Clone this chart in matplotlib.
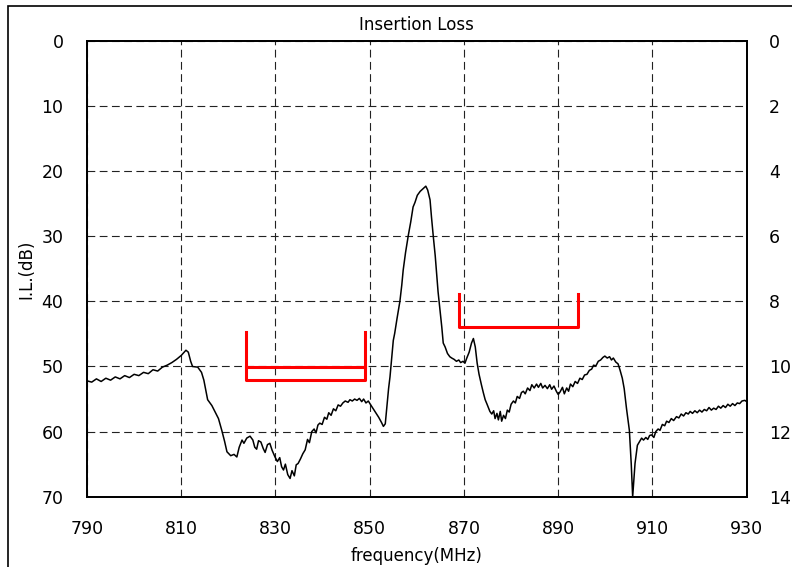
import matplotlib
matplotlib.use("Agg")
import matplotlib.pyplot as plt
from matplotlib.patches import Rectangle

freq = [790, 791, 792, 793, 794, 795, 796, 797, 798, 799, 800, 801, 802, 803, 804, 805, 806, 807, 808, 809,
        810, 810.5, 811, 811.5, 812, 812.4, 813.5, 814.3, 814.8, 815.3, 815.6, 816.5, 817.2, 817.9, 818.6,
        819.2, 819.7, 820.5, 821.2, 821.8, 822.3, 822.9, 823.3, 823.9, 824.6, 825.2, 825.6, 826.0, 826.4,
        826.9, 827.4, 827.8, 828.3, 828.8, 829.3, 829.9, 830.4, 830.9, 831.3, 831.7, 832.1, 832.6, 833.1,
        833.5, 834.0, 834.4, 834.8, 835.3, 835.8, 836.3, 836.8, 837.2, 837.7, 838.2, 838.6, 839.0, 839.4,
        839.9, 840.4, 840.9, 841.3, 841.8, 842.3, 842.8, 843.3, 843.8, 844.3, 844.8, 845.4, 845.8, 846.3,
        846.8, 847.3, 847.8, 848.3, 848.7, 849.2, 849.7, 850.3, 851.1, 851.9, 852.5, 852.9, 853.3, 853.6,
        854.0, 854.3, 854.7, 855.0, 855.3, 855.8, 856.4, 856.8, 857.1, 857.6, 858.2, 858.7, 859.2, 859.6,
        860.1, 860.7, 861.3, 861.9, 862.3, 862.8, 863.1, 863.5, 863.9, 864.2, 864.5, 864.9, 865.3, 865.6,
        866.0, 866.5, 867.0, 867.4, 867.9, 868.4, 868.9, 869.3, 869.8, 870.2, 870.6, 871.1, 871.6, 872.0,
        872.4, 872.8, 873.2, 873.7, 874.1, 874.5, 874.9, 875.5, 875.9, 876.3, 876.6, 877.0, 877.3, 877.7,
        878.0, 878.4, 878.8, 879.2, 879.6, 880.0, 880.5, 880.9, 881.3, 881.8, 882.2, 882.6, 883.0, 883.5,
        884.0, 884.4, 884.9, 885.4, 885.8, 886.3, 886.7, 887.2, 887.7, 888.2, 888.6, 889.1, 889.6, 890.0,
        890.4, 890.9, 891.3, 891.8, 892.2, 892.6, 893.1, 893.6, 894.1, 894.6, 895.1, 895.6, 896.1, 896.6,
        897.1, 897.5, 898.0, 898.5, 899.0, 899.5, 899.9, 900.4, 900.9, 901.3, 901.7, 902.2, 902.7, 903.1,
        903.6, 904.0, 904.5, 905.1, 905.5, 905.8, 906.3, 906.8, 907.2, 907.7, 908.1, 908.6, 909.0, 909.4,
        909.8, 910.3, 910.7, 911.2, 911.6, 912.1, 912.6, 913.0, 913.5, 914.0, 914.5, 915.1, 915.6, 916.1,
        916.6, 917.1, 917.6, 918.0, 918.5, 919.0, 919.5, 920.0, 920.5, 921.0, 921.5, 922.0, 922.5, 923.0,
        923.5, 924.0, 924.5, 925.0, 925.5, 926.0, 926.5, 927.0, 927.5, 928.0, 928.5, 929.0, 929.6, 930.0]
loss = [52.2, 52.4, 51.9, 52.3, 51.8, 52.1, 51.6, 51.9, 51.4, 51.7, 51.2, 51.4, 50.9, 51.1, 50.5, 50.7, 50.1, 49.8, 49.4, 48.9,
        48.3, 47.9, 47.5, 47.8, 49.2, 50.0, 50.1, 50.9, 52.1, 54.0, 55.1, 56.0, 57.0, 58.0, 59.8,
        61.5, 63.1, 63.7, 63.5, 63.9, 62.4, 61.3, 61.8, 61.0, 60.7, 61.3, 62.4, 62.7, 61.4,
        61.6, 62.6, 63.2, 62.0, 61.8, 62.9, 63.9, 64.6, 64.0, 65.4, 65.9, 65.0, 66.6, 67.2,
        66.0, 66.8, 65.1, 64.9, 64.2, 63.4, 62.8, 61.2, 61.7, 60.0, 59.6, 60.2, 59.0, 58.7,
        58.9, 57.8, 58.1, 57.1, 57.5, 56.5, 56.8, 55.9, 56.1, 55.6, 55.3, 55.5, 55.1, 55.3,
        55.0, 55.2, 54.9, 55.4, 55.0, 55.6, 55.3, 56.0, 56.9, 57.8, 58.6, 59.2, 58.8, 56.5,
        53.4, 51.6, 48.5, 46.0, 44.9, 42.6, 40.0, 37.5, 35.2, 32.5, 29.8, 27.8, 25.5, 24.8,
        23.7, 23.1, 22.7, 22.3, 22.9, 24.4, 27.0, 30.1, 33.0, 35.7, 38.5, 41.3, 44.0, 46.4,
        47.0, 48.0, 48.5, 48.7, 48.9, 49.2, 49.0, 49.4, 49.2, 49.5, 48.7, 47.8, 46.4, 45.7,
        47.0, 49.5, 51.2, 52.8, 54.0, 55.1, 55.8, 56.9, 57.3, 56.8, 58.0, 57.2, 58.2, 56.9,
        58.4, 57.5, 58.0, 56.7, 57.0, 55.8, 55.3, 55.6, 54.6, 54.9, 54.0, 53.8, 54.2, 53.3,
        53.7, 52.8, 53.3, 52.7, 53.2, 52.6, 53.3, 52.9, 53.4, 52.8, 53.5, 53.0, 53.8, 54.3,
        53.9, 53.2, 54.2, 53.3, 53.8, 52.7, 53.1, 52.3, 52.6, 51.8, 52.0, 51.3, 51.2, 50.6,
        50.4, 49.8, 49.9, 49.2, 49.0, 48.6, 48.4, 48.7, 48.5, 49.0, 48.7, 49.3, 49.6, 50.5,
        51.8, 53.4, 56.5, 59.8, 65.0, 70.0, 64.9, 62.1, 61.6, 61.0, 61.3, 60.9, 61.2, 60.6,
        60.5, 60.9, 60.0, 59.6, 59.8, 58.9, 59.1, 58.4, 58.6, 58.0, 58.3, 57.7, 57.9, 57.3,
        57.6, 57.1, 57.3, 56.9, 57.2, 56.8, 57.1, 56.7, 57.0, 56.6, 56.8, 56.3, 56.7, 56.4,
        56.6, 56.1, 56.4, 56.0, 56.3, 55.8, 56.1, 55.7, 56.0, 55.6, 55.7, 55.3, 55.2, 55.4]

# Spec brackets (MHz, dB)
spec1_x = [823.7, 823.7, 849.0, 849.0]
spec1_y = [44.7, 52.1, 52.1, 44.7]
spec1_mid = 50.1
spec2_x = [869.0, 869.0, 894.1, 894.1]
spec2_y = [38.9, 43.9, 43.9, 38.9]

x_ticks = [790, 810, 830, 850, 870, 890, 910, 930]
left_ticks = [0, 10, 20, 30, 40, 50, 60, 70]
right_ticks = [0, 2, 4, 6, 8, 10, 12, 14]

fs = 12.5
fig = plt.figure(figsize=(7.92, 5.67), dpi=100)
ax = fig.add_axes([87 / 792, 1 - 496.7 / 567, (746.7 - 87) / 792, (496.7 - 41) / 567])

ax.plot(freq, loss, color="black", lw=1.1, zorder=3)
ax.plot(spec1_x, spec1_y, color="red", lw=2.2, zorder=4)
ax.plot([spec1_x[0], spec1_x[-1]], [spec1_mid, spec1_mid], color="red", lw=2.2, zorder=4)
ax.plot(spec2_x, spec2_y, color="red", lw=2.2, zorder=4)

ax.set_xlim(790, 930)
ax.set_ylim(70, 0)
ax.set_xticks(x_ticks)
ax.set_yticks(left_ticks)
ax.grid(True, color="#222222", ls=(0, (7, 4)), lw=0.8)
ax.tick_params(length=0, labelsize=fs)
ax.tick_params(axis="y", pad=17)
ax.tick_params(axis="x", pad=17)
for s in ax.spines.values():
    s.set_linewidth(1.3)

ax2 = ax.twinx()
ax2.set_ylim(14, 0)
ax2.set_yticks(right_ticks)
ax2.tick_params(length=0, labelsize=fs, pad=16)
for s in ax2.spines.values():
    s.set_linewidth(1.3)

ax.set_title("Insertion Loss", fontsize=12, pad=8)
ax.set_xlabel("frequency(MHz)", fontsize=12, labelpad=6)
ax.set_ylabel("I.L.(dB)", fontsize=12, labelpad=4)

# outer chart frame
fig.patches.append(Rectangle((8 / 792, -0.05), 1.1, 1.05 - 6 / 567, transform=fig.transFigure,
                             fill=False, edgecolor="black", lw=1.2))

fig.savefig("out.png", dpi=100)
